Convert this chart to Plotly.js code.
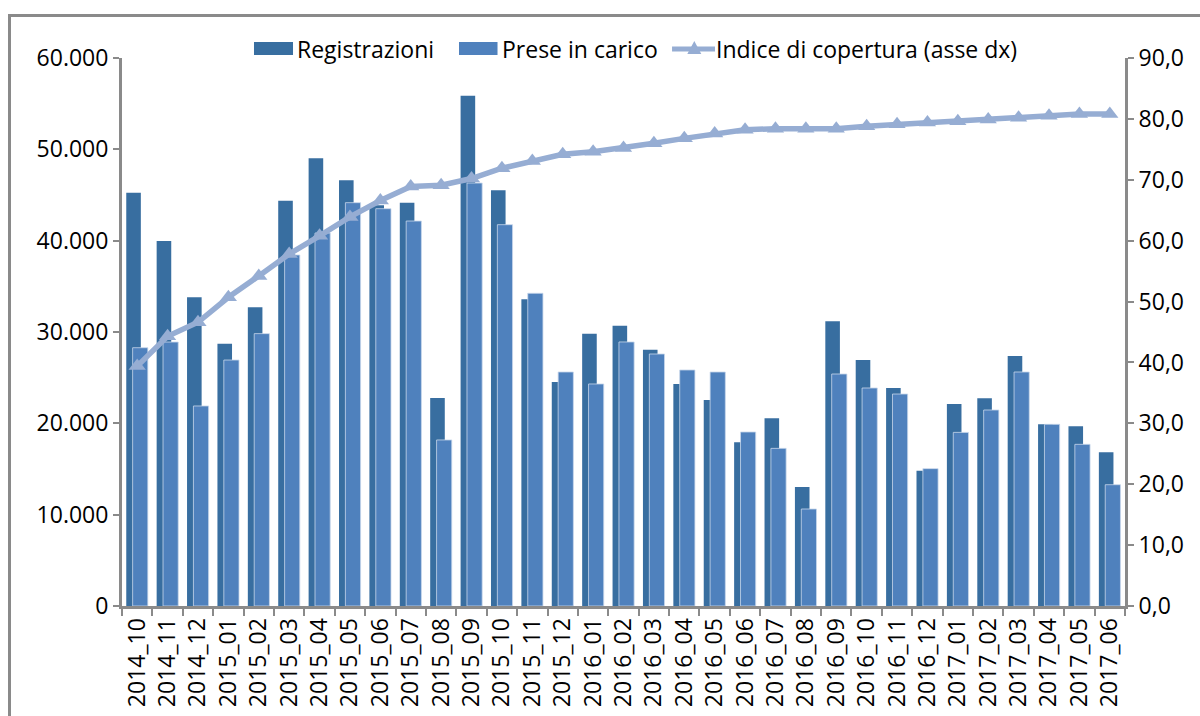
<!DOCTYPE html>
<html>
<head>
<meta charset="utf-8">
<script src="https://cdn.plot.ly/plotly-3.0.1.min.js"></script>
<style>
  html, body { margin: 0; padding: 0; background: #fff; overflow: hidden; }
  #frame { position: absolute; left: 8px; top: 14px; width: 1300px; height: 800px;
           border-left: 3px solid #8a8a8a; border-top: 3px solid #8a8a8a; }
  #chart { position: absolute; left: 0; top: 0; width: 1200px; height: 716px; }
</style>
</head>
<body>
<div id="frame"></div>
<div id="chart"></div>
<script>
// mesi (asse x)
const mesi = [
  '2014_10', '2014_11', '2014_12',
  '2015_01', '2015_02', '2015_03', '2015_04', '2015_05', '2015_06',
  '2015_07', '2015_08', '2015_09', '2015_10', '2015_11', '2015_12',
  '2016_01', '2016_02', '2016_03', '2016_04', '2016_05', '2016_06',
  '2016_07', '2016_08', '2016_09', '2016_10', '2016_11', '2016_12',
  '2017_01', '2017_02', '2017_03', '2017_04', '2017_05', '2017_06'
];

// serie
const registrazioni = [
  45250, 39960, 33800,
  28720, 32700, 44380, 49020, 46610, 43870,
  44160, 22780, 55880, 45510, 33580, 24530,
  29820, 30690, 28070, 24310, 22560, 17920,
  20550, 13030, 31170, 26940, 23870, 14820,
  22120, 22740, 27370, 19890, 19670, 16830
];
const preseInCarico = [
  28280, 28900, 21900,
  26930, 29820, 38430, 40840, 44160, 43500,
  42150, 18180, 46310, 41750, 34240, 25620,
  24310, 28910, 27590, 25840, 25620, 19050,
  17260, 10620, 25400, 23870, 23210, 15040,
  19010, 21460, 25620, 19890, 17700, 13280
];
const indiceCopertura = [
  39.4, 44.3, 46.6,
  50.7, 54.2, 57.8, 60.8, 63.9, 66.6,
  68.9, 69.1, 70.2, 71.9, 73.1, 74.2,
  74.6, 75.2, 76.0, 76.8, 77.6, 78.2,
  78.4, 78.4, 78.4, 78.8, 79.1, 79.4,
  79.6, 79.9, 80.2, 80.5, 80.8, 80.8
];

const nomi = ['Registrazioni', 'Prese in carico', 'Indice di copertura (asse dx)'];
const colori = ['#386ea0', '#4f81bd', '#96add3'];

const FONT = 'Open Sans, Noto Sans, sans-serif';
const FS = 23;
const AXIS = '#8a8a8a';

const traces = [
  {
    name: nomi[0], type: 'bar', x: mesi, y: registrazioni,
    width: 0.48, offset: -0.36,
    marker: { color: colori[0], line: { width: 0 } }
  },
  {
    name: nomi[1], type: 'bar', x: mesi, y: preseInCarico,
    width: 0.5, offset: -0.15,
    marker: { color: colori[1], line: { width: 1, color: 'rgba(200,215,235,0.8)' } }
  },
  {
    name: nomi[2], type: 'scatter', mode: 'lines+markers',
    x: mesi, y: indiceCopertura, yaxis: 'y2',
    line: { color: colori[2], width: 5.5 },
    marker: { symbol: 'triangle-up', size: 15, color: colori[2] }
  }
];

// legenda disegnata a mano (rettangoli larghi come nell'originale)
const legY = 1.0164;
const legendShapes = [
  { type: 'rect', xref: 'paper', yref: 'paper', x0: 0.1316, x1: 0.1705, y0: 1.0055, y1: 1.0292,
    fillcolor: colori[0], line: { width: 0 } },
  { type: 'rect', xref: 'paper', yref: 'paper', x0: 0.336, x1: 0.3744, y0: 1.0055, y1: 1.0292,
    fillcolor: colori[1], line: { width: 0 } },
  { type: 'line', xref: 'paper', yref: 'paper', x0: 0.5484, x1: 0.5912, y0: legY, y1: legY,
    line: { color: colori[2], width: 5 } },
  { type: 'path', xref: 'paper', yref: 'paper', xsizemode: 'pixel', ysizemode: 'pixel',
    xanchor: 0.5706, yanchor: legY, path: 'M -7,-5 L 7,-5 L 0,8 Z',
    fillcolor: colori[2], line: { width: 0 } }
];
const legendText = [
  { x: 0.1725, text: nomi[0] },
  { x: 0.3769, text: nomi[1] },
  { x: 0.5902, text: nomi[2] }
].map(d => ({
  xref: 'paper', yref: 'paper', x: d.x, y: legY, xanchor: 'left', yanchor: 'middle',
  text: d.text, showarrow: false, font: { family: FONT, size: FS, color: '#000' }
}));

const layout = {
  width: 1200, height: 716,
  paper_bgcolor: 'rgba(0,0,0,0)', plot_bgcolor: 'rgba(0,0,0,0)',
  margin: { l: 122, r: 75, t: 58, b: 110 },
  barmode: 'overlay',
  separators: ',.',
  font: { family: FONT, size: FS, color: '#000' },
  showlegend: false,
  shapes: legendShapes,
  annotations: legendText,
  xaxis: {
    type: 'category', range: [-0.5, mesi.length - 0.5], autorange: false, tickangle: -90,
    showline: true, linecolor: AXIS, linewidth: 3,
    ticks: 'outside', tickson: 'boundaries', ticklen: 7, tickwidth: 2, tickcolor: AXIS,
    showgrid: false, zeroline: false,
    tickfont: { family: FONT, size: FS, color: '#000' }
  },
  yaxis: {
    range: [0, 60000], dtick: 10000, tickformat: ',d',
    showline: true, linecolor: AXIS, linewidth: 3,
    ticks: 'outside', ticklen: 6, tickwidth: 2, tickcolor: AXIS,
    showgrid: false, zeroline: false,
    tickfont: { family: FONT, size: FS, color: '#000' }
  },
  yaxis2: {
    overlaying: 'y', side: 'right',
    range: [0, 90], dtick: 10, tickformat: '.1f',
    showline: true, linecolor: AXIS, linewidth: 3,
    ticks: 'outside', ticklen: 6, tickwidth: 2, tickcolor: AXIS,
    showgrid: false, zeroline: false,
    tickfont: { family: FONT, size: FS, color: '#000' }
  }
};

Plotly.newPlot('chart', traces, layout, { displayModeBar: false, staticPlot: true });
</script>
</body>
</html>
